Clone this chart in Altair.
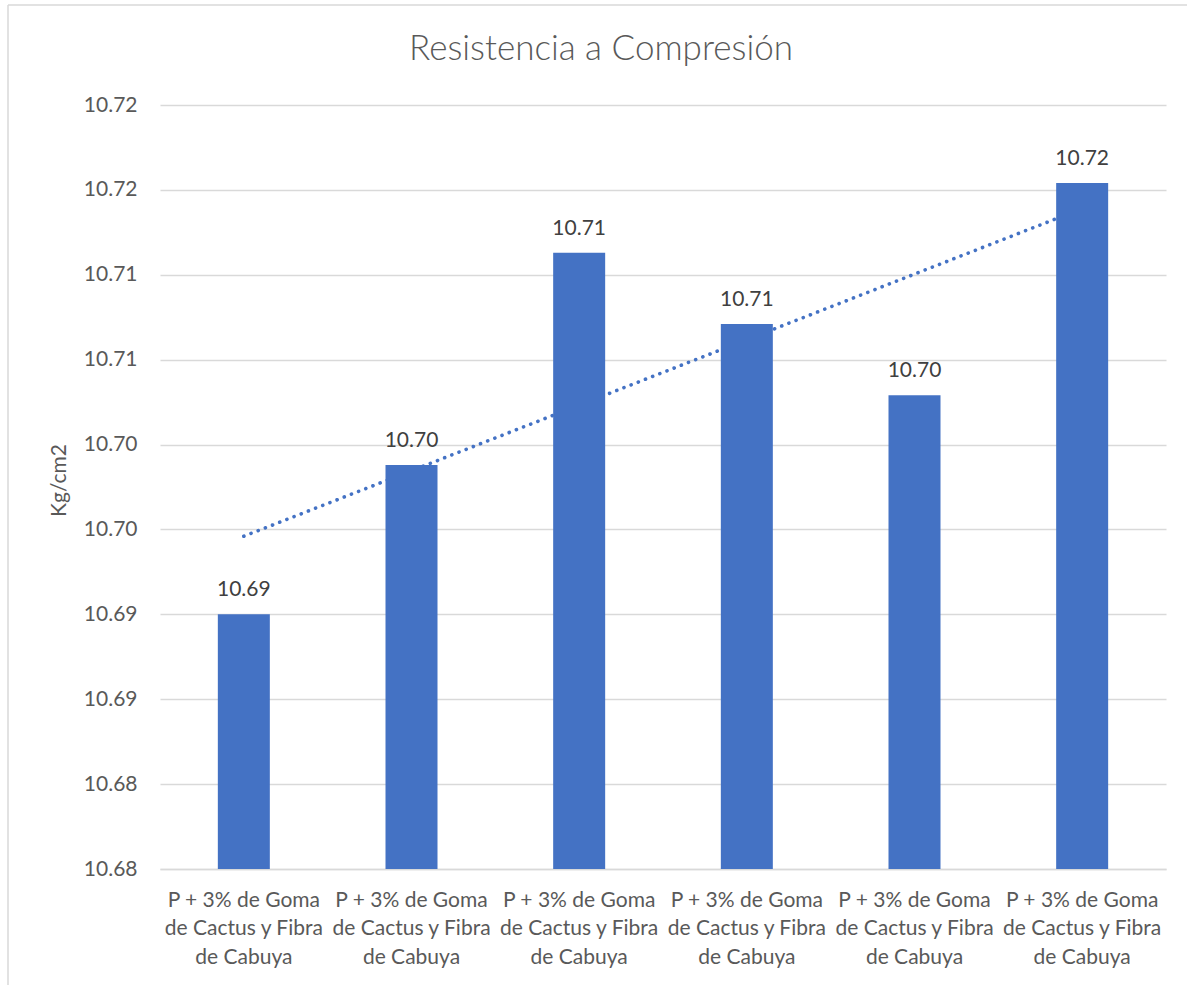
import altair as alt
import pandas as pd

# ---- data ----
categories = [
    "P + 3% de Goma de Cactus y Fibra de Cabuya",
    "P + 3% de Goma de Cactus y Fibra de Cabuya",
    "P + 3% de Goma de Cactus y Fibra de Cabuya",
    "P + 3% de Goma de Cactus y Fibra de Cabuya",
    "P + 3% de Goma de Cactus y Fibra de Cabuya",
    "P + 3% de Goma de Cactus y Fibra de Cabuya",
]
category_lines = [
    ["P + 3% de Goma", "de Cactus y Fibra", "de Cabuya"],
    ["P + 3% de Goma", "de Cactus y Fibra", "de Cabuya"],
    ["P + 3% de Goma", "de Cactus y Fibra", "de Cabuya"],
    ["P + 3% de Goma", "de Cactus y Fibra", "de Cabuya"],
    ["P + 3% de Goma", "de Cactus y Fibra", "de Cabuya"],
    ["P + 3% de Goma", "de Cactus y Fibra", "de Cabuya"],
]
values = [10.6900, 10.6988, 10.7113, 10.7071, 10.7029, 10.7154]
y_ticks = [10.675, 10.680, 10.685, 10.690, 10.695, 10.700, 10.705, 10.710, 10.715, 10.720]
y_tick_labels = ["10.68", "10.68", "10.69", "10.69", "10.70", "10.70", "10.71", "10.71", "10.72", "10.72"]

df = pd.DataFrame({
    "idx": list(range(1, len(values) + 1)),
    "cat": categories,
    "val": values,
    "base": [y_ticks[0]] * len(values),
})

FONT = "Lato"
BLUE = "#4472C4"
GRID = "#d9d9d9"
W, H = 1006, 764

x_label_expr = "%s[datum.value - 1]" % str(category_lines).replace('"', "'")
y_label_expr = "%s[round((datum.value - %r) / 0.005)]" % (str(y_tick_labels).replace('"', "'"), y_ticks[0])

x_enc = alt.X(
    "idx:O",
    title=None,
    scale=alt.Scale(paddingInner=0, paddingOuter=0),
    axis=alt.Axis(
        labelExpr=x_label_expr,
        labelAngle=0,
        labelFont=FONT,
        labelFontSize=21,
        labelColor="#595959",
        labelLineHeight=28.5,
        labelPadding=20,
        labelBaseline="top",
        ticks=False,
        domainColor=GRID,
        domainWidth=1.3,
        grid=False,
    ),
)
y_enc = alt.Y(
    "val:Q",
    title="Kg/cm2",
    scale=alt.Scale(domain=[y_ticks[0], y_ticks[-1]], zero=False, nice=False),
    axis=alt.Axis(
        values=y_ticks,
        labelExpr=y_label_expr,
        labelFont=FONT,
        labelFontSize=21,
        labelColor="#595959",
        labelPadding=23,
        ticks=False,
        domain=False,
        grid=True,
        gridColor=GRID,
        gridWidth=1.3,
        titleFont=FONT,
        titleFontSize=21,
        titleFontWeight="normal",
        titleColor="#595959",
        titleAngle=-90,
        titleAlign="center",
        titleBaseline="middle",
        titleX=-101,
        titleY=375,
    ),
)

base = alt.Chart(df)

trend = base.transform_regression("idx", "val", method="linear").mark_line(
    color=BLUE, strokeWidth=3.6, strokeDash=[0.1, 7.6], strokeCap="round"
).encode(x=x_enc, y="val:Q")

bars = base.mark_bar(color=BLUE, size=52).encode(x=x_enc, y=y_enc, y2="base:Q")

labels = base.mark_text(
    font=FONT, fontSize=21, color="#404040", baseline="alphabetic", dy=-18
).encode(x=x_enc, y="val:Q", text=alt.Text("val:Q", format=".2f"))

frame_df = pd.DataFrame({"k": [0]})
left_border = alt.Chart(frame_df).mark_rule(color=GRID, strokeWidth=1.5).encode(
    x=alt.value(-152), y=alt.value(-100), y2=alt.value(H + 20 + 120)
)
top_border = alt.Chart(frame_df).mark_rule(color=GRID, strokeWidth=1.5).encode(
    y=alt.value(-100), x=alt.value(-152), x2=alt.value(W + 40)
)

chart = alt.layer(left_border, top_border, trend, bars, labels).properties(
    width=W,
    height=H,
    autosize=alt.AutoSizeParams(type="none"),
    padding={"left": 160, "top": 105, "right": 21, "bottom": 116},
    background="white",
    title=alt.TitleParams(
        "Resistencia a Compresión",
        font=FONT,
        fontSize=35,
        fontWeight=300,
        color="#595959",
        anchor="middle",
        dx=-62,
        offset=-63,
    ),
).configure_view(stroke=None)

chart.save("out.html", embed_options={"renderer": "svg", "actions": False})
